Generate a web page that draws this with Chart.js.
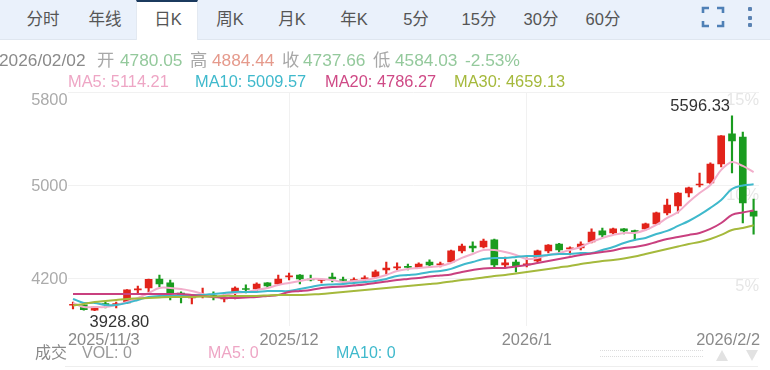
<!DOCTYPE html>
<html lang="zh">
<head>
<meta charset="utf-8">
<title>日K</title>
<script src="https://cdn.jsdelivr.net/npm/chart.js@4"></script>
<style>
html,body{margin:0;padding:0;background:#fff;overflow:hidden}
body{width:770px;height:370px;position:relative;font-family:"Liberation Sans","Noto Sans CJK SC",sans-serif}
canvas{position:absolute;left:0;top:0}
.bar{position:absolute;left:0;top:0;width:770px;height:39px;background:#eaf1fb;border-bottom:1px solid #dfe6ef}
.tab{position:absolute;top:0;height:39px;line-height:39px;transform:translateX(-50%);font-size:16.5px;color:#555;white-space:nowrap}
.active{position:absolute;left:136px;top:0;width:62px;background:#fff;border-top:2px solid #1b3a5e;border-left:1px solid #e3e9f1;border-right:1px solid #e3e9f1;box-sizing:border-box;height:40px}
.t{position:absolute;white-space:nowrap;line-height:20px}
.r1{top:50px;font-size:17.3px}
.r2{top:71px;font-size:16.4px}
.r3{top:343px;font-size:16px}
.g{color:#94c99c}.h{color:#e59a8c}.q{color:#a8a8a8}
.dot{position:absolute;left:748px;width:4px;height:4px;background:#5b83b3;border-radius:1px}
.dots{position:absolute;left:600px;width:103px;border-top:1px dotted #dcdcdc}
.up,.dn{position:absolute;width:0;height:0;border-left:6px solid transparent;border-right:6px solid transparent}
.up{left:716px;top:350px;border-bottom:11px solid #e2e2e2}
.dn{left:746px;top:350px;border-top:11px solid #e2e2e2}
.base{position:absolute;left:65px;top:366px;width:693px;border-top:1px solid #eee}
</style>
</head>
<body>
<canvas id="c" width="770" height="370"></canvas>
<div class="bar"></div>
<div class="active"></div>
<div class="tab" style="left:43px">分时</div>
<div class="tab" style="left:105px">年线</div>
<div class="tab" style="left:168px">日K</div>
<div class="tab" style="left:230px">周K</div>
<div class="tab" style="left:292px">月K</div>
<div class="tab" style="left:354px">年K</div>
<div class="tab" style="left:416px">5分</div>
<div class="tab" style="left:479px">15分</div>
<div class="tab" style="left:541px">30分</div>
<div class="tab" style="left:603px">60分</div>
<svg style="position:absolute;left:700px;top:5px" width="26" height="24" fill="none" stroke="#4f80b6" stroke-width="2.6"><path d="M3 8V3H9M17 3H23V8M23 16V21H17M9 21H3V16"/></svg>
<div class="dot" style="top:7px"></div><div class="dot" style="top:16px"></div><div class="dot" style="top:23px"></div>
<span class="t r1" style="left:-1px;color:#8a8a8a">2026/02/02</span>
<span class="t r1 q" style="left:97px">开</span><span class="t r1 g" style="left:120px">4780.05</span>
<span class="t r1 q" style="left:190px">高</span><span class="t r1 h" style="left:212px">4884.44</span>
<span class="t r1 q" style="left:282px">收</span><span class="t r1 g" style="left:303px">4737.66</span>
<span class="t r1 q" style="left:373px">低</span><span class="t r1 g" style="left:395px">4584.03</span>
<span class="t r1 g" style="left:465px">-2.53%</span>
<span class="t r2" style="left:68px;color:#eea6c5">MA5: 5114.21</span>
<span class="t r2" style="left:195px;color:#3fb9cc">MA10: 5009.57</span>
<span class="t r2" style="left:325px;color:#cf4a86">MA20: 4786.27</span>
<span class="t r2" style="left:454px;color:#a5b93c">MA30: 4659.13</span>
<span class="t r3" style="left:35px;color:#8a8a8a">成交</span>
<span class="t r3" style="left:82px;color:#9a9a9a">VOL: 0</span>
<span class="t r3" style="left:208px;color:#eea6c5">MA5: 0</span>
<span class="t r3" style="left:336px;color:#3fb9cc">MA10: 0</span>
<div class="dots" style="top:350px"></div><div class="dots" style="top:356px"></div>
<div class="up"></div><div class="dn"></div>
<div class="base"></div>
<script>
const categories = [
"2025/11/3","2025/11/4","2025/11/5","2025/11/6","2025/11/7","2025/11/10","2025/11/11","2025/11/12","2025/11/13","2025/11/14",
"2025/11/17","2025/11/18","2025/11/19","2025/11/20","2025/11/21","2025/11/24","2025/11/25","2025/11/26","2025/11/27","2025/11/28",
"2025/12/1","2025/12/2","2025/12/3","2025/12/4","2025/12/5","2025/12/8","2025/12/9","2025/12/10","2025/12/11","2025/12/12",
"2025/12/15","2025/12/16","2025/12/17","2025/12/18","2025/12/19","2025/12/22","2025/12/23","2025/12/24","2025/12/26","2025/12/29",
"2025/12/30","2025/12/31","2026/1/2","2026/1/5","2026/1/6","2026/1/7","2026/1/8","2026/1/9","2026/1/12","2026/1/13",
"2026/1/14","2026/1/15","2026/1/16","2026/1/19","2026/1/20","2026/1/21","2026/1/22","2026/1/23","2026/1/26","2026/1/27",
"2026/1/28","2026/1/29","2026/1/30","2026/2/2"];
const xTickIndex = [0,20,42,63];
const xTickLabels = ["2025/11/3","2025/12","2026/1","2026/2/2"];
const yTicks = [4200,5000,5800];
const pctTicks = [5,10,15];

const open = [3975,3978,3932,3986,3980,3995,4106,4123,4200,4166,4080,4037,4055,4058,4029,4089,4118,4114,4166,4157,
4217,4234,4200,4187,4217,4191,4187,4200,4217,4277,4294,4303,4299,4345,4320,4345,4440,4482,4474,4534,
4320,4345,4320,4354,4440,4499,4457,4465,4517,4611,4594,4628,4615,4628,4671,4765,4825,4936,5004,5021,
5184,5441,5415,4780.05];
const high = [4003,3995,3963,4003,4003,4110,4140,4200,4234,4191,4089,4055,4123,4089,4080,4132,4149,4166,4168,4234,
4251,4238,4234,4200,4251,4217,4209,4226,4277,4345,4337,4328,4337,4363,4345,4448,4499,4517,4542,4542,
4388,4363,4380,4448,4495,4504,4474,4517,4628,4636,4636,4632,4619,4679,4773,4884,4940,4987,5107,5193,
5428,5596.33,5458,4884.44];
const low = [3943,3932,3928.8,3952,3952,3990,4080,4089,4132,4020,3995,3986,4037,4020,4003,4029,4080,4097,4123,4149,
4191,4157,4183,4166,4174,4166,4157,4174,4209,4243,4277,4277,4294,4303,4303,4341,4422,4431,4465,4294,
4303,4260,4303,4345,4422,4422,4405,4448,4508,4559,4585,4585,4534,4619,4666,4748,4765,4902,4987,5013,
5158,5107,4679,4584.03];
const close = [3979,3937,3960,3980,3986,4106,4114,4196,4157,4072,4046,4046,4063,4052,4037,4123,4110,4157,4140,4200,
4226,4200,4191,4191,4200,4187,4191,4209,4260,4294,4303,4299,4328,4320,4328,4440,4482,4465,4525,4320,
4337,4311,4328,4440,4491,4448,4465,4499,4602,4577,4628,4611,4598,4671,4765,4833,4936,4979,5013,5184,
5424,5381,4850,4737.66];

const ma5 = [3995,3960,3960,3960,3978,4003,4037,4080,4123,4123,4114,4097,4072,4046,4063,4080,4089,4106,4123,4149,
4166,4183,4200,4200,4191,4174,4183,4191,4209,4234,4268,4286,4294,4303,4311,4337,4380,4414,4448,4448,
4431,4405,4371,4380,4405,4422,4448,4474,4517,4551,4577,4594,4594,4619,4662,4722,4773,4859,4936,5004,
5133,5201,5167,5114.21];
const ma10 = [4029,3995,3995,3978,3978,3995,4020,4046,4055,4055,4063,4063,4063,4072,4080,4089,4089,4089,4097,4097,
4097,4114,4132,4149,4153,4157,4166,4174,4183,4200,4226,4234,4243,4260,4268,4286,4320,4345,4371,4380,
4380,4388,4397,4397,4405,4414,4414,4422,4422,4448,4474,4508,4534,4551,4585,4611,4654,4696,4748,4808,
4876,4970,5000,5009.57];
const ma20 = [4072,4072,4072,4072,4072,4072,4072,4072,4072,4072,4072,4063,4055,4046,4037,4037,4042,4046,4055,4063,
4089,4097,4106,4123,4132,4136,4144,4153,4166,4179,4191,4200,4209,4221,4230,4239,4260,4277,4290,4294,
4294,4307,4320,4337,4354,4371,4388,4405,4418,4431,4444,4465,4474,4491,4517,4542,4559,4577,4594,4628,
4679,4748,4769,4786.27];
const ma30 = [3973,3986,4003,4012,4020,4029,4033,4037,4042,4046,4046,4046,4050,4050,4055,4055,4055,4055,4059,4063,
4063,4063,4068,4072,4080,4089,4097,4106,4114,4123,4132,4140,4149,4157,4166,4179,4191,4200,4213,4226,
4234,4247,4260,4273,4286,4299,4311,4328,4341,4354,4363,4375,4392,4414,4435,4457,4478,4499,4517,4542,
4577,4619,4636,4659.13];

const RED = "#e2231a", GREEN = "#1a9c1f";
const candleColors = open.map((o,i)=> close[i] >= o ? RED : GREEN);
const zipPair = (a,b)=>a.map((v,i)=>[v,b[i]]);
const lineDs = (label,data,color)=>({type:"line",label,data,borderColor:color,borderWidth:2,pointRadius:0,tension:0.35,order:1,yAxisID:"y"});

const fontStack = '"Liberation Sans","Noto Sans CJK SC",sans-serif';
const LABEL_FONT = {family:fontStack,size:16.4};
const noPad = s=>{s.paddingLeft=0;s.paddingRight=0;s.paddingTop=0;s.paddingBottom=0;};

const tweakLabels = {
  id:"tweakLabels",
  beforeDraw(chart){
    if(chart.$tweaked) return;
    chart.$tweaked = true;
    const xi = chart.scales.x.getLabelItems(chart.chartArea);
    xi.forEach(it=>{
      if(it.label===xTickLabels[0]){it.options.textAlign="left";it.options.translation[0]=68;}
      if(it.label===xTickLabels[3]){it.options.textAlign="right";it.options.translation[0]=760;}
    });
    chart.scales.y.getLabelItems(chart.chartArea).forEach(it=>{
      it.options.translation[1]+= it.label==="5800"?8:1;
    });
    chart.scales.pct.getLabelItems(chart.chartArea).forEach(it=>{
      it.options.translation[1]+= it.label==="10%"?10:8;
    });
  }
};
const extremes = {
  id:"extremes",
  afterDatasetsDraw(chart){
    const {ctx,scales:{x,y}} = chart;
    const hi = Math.max(...high), lo = Math.min(...low);
    const hx = x.getPixelForValue(high.indexOf(hi)), hy = y.getPixelForValue(hi);
    const lx = x.getPixelForValue(low.indexOf(lo)), ly = y.getPixelForValue(lo);
    ctx.save();
    ctx.font = "16.5px "+fontStack;
    ctx.fillStyle = "#333";
    ctx.textBaseline = "middle";
    ctx.textAlign = "right";
    ctx.fillText(hi.toFixed(2),hx-2,hy-9);
    ctx.textAlign = "left";
    ctx.fillText(lo.toFixed(2),lx-5,ly+12);
    ctx.restore();
  }
};

new Chart(document.getElementById("c"),{
  type:"bar",
  data:{labels:categories,datasets:[
    lineDs("MA30",ma30,"#a5b93c"),
    lineDs("MA20",ma20,"#c9407f"),
    lineDs("MA10",ma10,"#3fb9cc"),
    lineDs("MA5",ma5,"#f2aecb"),
    {label:"body",data:zipPair(open,close),backgroundColor:candleColors,barThickness:7,minBarLength:1,grouped:false,order:2,yAxisID:"y"},
    {label:"wick",data:zipPair(low,high),backgroundColor:candleColors,barThickness:1.5,grouped:false,order:3,yAxisID:"y"}
  ]},
  plugins:[tweakLabels,extremes],
  options:{
    responsive:false,animation:false,devicePixelRatio:1,
    layout:{padding:{top:92,right:11,bottom:0,left:0}},
    plugins:{legend:{display:false},tooltip:{enabled:false}},
    scales:{
      x:{
        type:"category",offset:true,
        afterBuildTicks(s){s.ticks = xTickIndex.map(v=>({value:v}));},
        afterFit(s){s.height = 44.3;noPad(s);},
        grid:{offset:false,color(c){return (c.tick&&(c.tick.value===20||c.tick.value===42))?"#f1f1f1":"rgba(0,0,0,0)";},drawTicks:false},
        border:{display:false},
        ticks:{autoSkip:false,maxRotation:0,minRotation:0,padding:5,color:"#8a8a8a",font:LABEL_FONT,
          callback(v){return xTickLabels[xTickIndex.indexOf(v)];}}
      },
      y:{
        position:"left",min:3800,max:5800,
        afterBuildTicks(s){s.ticks = yTicks.map(v=>({value:v}));},
        afterFit(s){s.width = 67.6;noPad(s);},
        grid:{color:"#f1f1f1",drawTicks:false},
        border:{display:false},
        ticks:{padding:0,color:"#ababab",font:LABEL_FONT,callback(v){return String(v);}}
      },
      pct:{
        position:"right",min:2.5,max:15,
        afterBuildTicks(s){s.ticks = pctTicks.map(v=>({value:v}));},
        afterFit(s){s.width = 0;noPad(s);},
        grid:{display:false},
        border:{display:false},
        ticks:{mirror:true,padding:0,color:"#e6e6e6",font:LABEL_FONT,callback(v){return v+"%";}}
      }
    }
  }
});
</script>
</body>
</html>
